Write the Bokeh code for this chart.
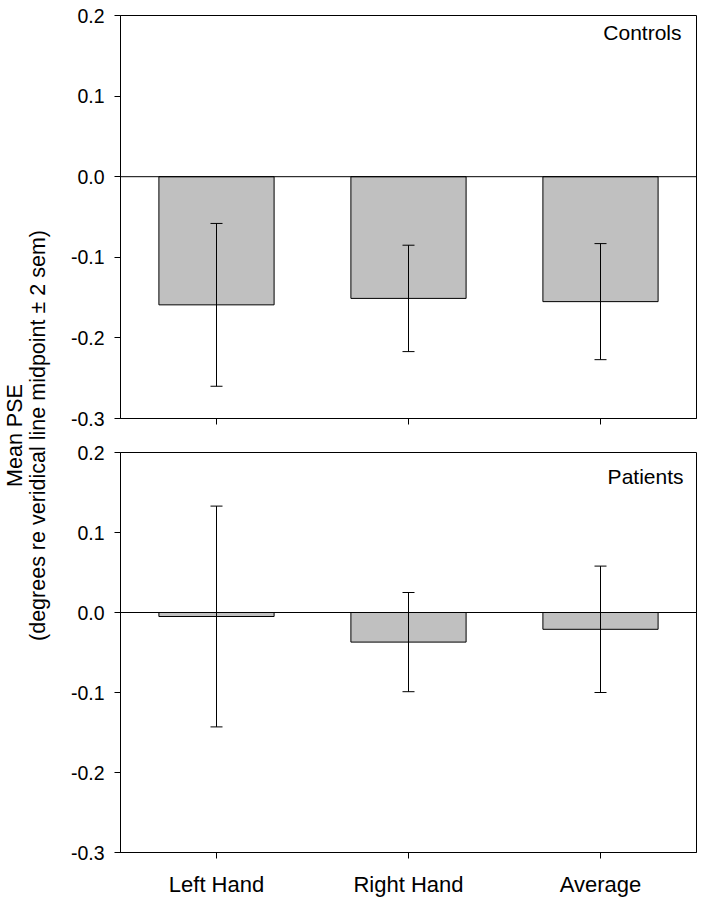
import math
from bokeh.plotting import figure
from bokeh.models import (Range1d, FixedTicker, NumeralTickFormatter, Span, Whisker,
                          ColumnDataSource, Label, TeeHead)
from bokeh.layouts import row, column
from bokeh.embed import file_html
from bokeh.resources import INLINE

# ---------------- data ----------------
categories = ["Left Hand", "Right Hand", "Average"]
controls_mean = [-0.159, -0.151, -0.155]
controls_err = [0.101, 0.066, 0.072]     # 2 sem
patients_mean = [-0.005, -0.037, -0.021]
patients_err = [0.138, 0.062, 0.079]     # 2 sem
y_ticks = [-0.3, -0.2, -0.1, 0.0, 0.1, 0.2]
panel_names = ["Controls", "Patients"]
y_label_lines = ["Mean PSE", "(degrees re veridical line midpoint \u00b1 2 sem)"]

FONT = "Liberation Sans"
FRAME_W, FRAME_H = 576, 403
LEFT_FIG_W = 56
BORDER_L, BORDER_R = 64, 5
TOP_T, TOP_B = 15, 20
BOT_T, BOT_B = 14, 44


def make_panel(means, errs, name, show_labels, name_x, name_y, mb_top, mb_bottom):
    xs = list(range(len(categories)))
    src = ColumnDataSource(dict(
        x=xs, top=means,
        upper=[m + e for m, e in zip(means, errs)],
        lower=[m - e for m, e in zip(means, errs)],
    ))
    p = figure(width=BORDER_L + FRAME_W + BORDER_R, height=mb_top + FRAME_H + mb_bottom,
               x_range=Range1d(-0.5, len(categories) - 0.5),
               y_range=Range1d(y_ticks[0], y_ticks[-1]),
               output_backend="svg", toolbar_location=None,
               min_border_left=BORDER_L, min_border_right=BORDER_R,
               min_border_top=mb_top, min_border_bottom=mb_bottom)
    p.grid.visible = False
    p.outline_line_color = "black"
    p.outline_line_alpha = 1.0
    p.outline_line_width = 1
    p.background_fill_color = "white"
    p.border_fill_color = "white"

    p.vbar(x="x", top="top", bottom=0, width=0.6, source=src,
           fill_color="#c0c0c0", line_color="black", line_width=1)
    p.add_layout(Span(location=0, dimension="width", line_color="black", line_width=1))
    w = Whisker(base="x", upper="upper", lower="lower", source=src,
                line_color="black", line_width=1, level="overlay",
                upper_head=TeeHead(size=12, line_color="black", line_width=1),
                lower_head=TeeHead(size=12, line_color="black", line_width=1))
    p.add_layout(w)

    # x axis
    xa = p.xaxis[0]
    xa.ticker = FixedTicker(ticks=xs)
    xa.major_tick_in = 0
    xa.major_tick_out = 6
    xa.minor_tick_line_color = None
    xa.axis_line_color = "black"
    xa.major_tick_line_color = "black"
    xa.major_label_text_font = FONT
    xa.major_label_text_color = "black"
    if show_labels:
        xa.major_label_overrides = {i: c for i, c in zip(xs, categories)}
        xa.major_label_text_font_size = "22px"
        xa.major_label_standoff = 13
    else:
        xa.major_label_overrides = {i: "" for i in xs}
        xa.major_label_text_font_size = "1px"
        xa.major_label_standoff = 0

    # y axis
    ya = p.yaxis[0]
    ya.ticker = FixedTicker(ticks=y_ticks)
    ya.formatter = NumeralTickFormatter(format="0.0")
    ya.major_tick_in = 0
    ya.major_tick_out = 6
    ya.minor_tick_line_color = None
    ya.axis_line_color = "black"
    ya.major_tick_line_color = "black"
    ya.major_label_text_font = FONT
    ya.major_label_text_font_size = "19.5px"
    ya.major_label_text_color = "black"
    ya.major_label_standoff = 10

    p.add_layout(Label(x=name_x, y=name_y, x_units="screen", y_units="screen",
                       text=name, text_align="right", text_baseline="alphabetic",
                       text_font=FONT, text_font_size="21px", text_color="black"))
    return p


top = make_panel(controls_mean, controls_err, panel_names[0], False,
                 FRAME_W - 15, FRAME_H - 17, TOP_T, TOP_B)
bottom = make_panel(patients_mean, patients_err, panel_names[1], True,
                    FRAME_W - 13, FRAME_H - 27, BOT_T, BOT_B)

total_h = (TOP_T + FRAME_H + TOP_B) + (BOT_T + FRAME_H + BOT_B)
lab = figure(width=LEFT_FIG_W, height=total_h, x_range=Range1d(0, 1), y_range=Range1d(0, 1),
             output_backend="svg", toolbar_location=None,
             x_axis_location=None, y_axis_location=None, min_border=0)
lab.outline_line_color = None
lab.grid.visible = False
panels_center = (TOP_T + (TOP_T + FRAME_H + TOP_B + BOT_T + FRAME_H)) / 2
center_y = total_h - panels_center
lab.add_layout(Label(x=14, y=center_y, x_units="screen", y_units="screen",
                     text=y_label_lines[0], angle=math.pi / 2, text_align="center",
                     text_baseline="middle", text_font=FONT, text_font_size="21.5px",
                     text_color="black"))
lab.add_layout(Label(x=37.5, y=center_y, x_units="screen", y_units="screen",
                     text=y_label_lines[1], angle=math.pi / 2, text_align="center",
                     text_baseline="middle", text_font=FONT, text_font_size="21.5px",
                     text_color="black"))

layout = row(lab, column(top, bottom))
open("out.html", "w").write(file_html(layout, INLINE))
